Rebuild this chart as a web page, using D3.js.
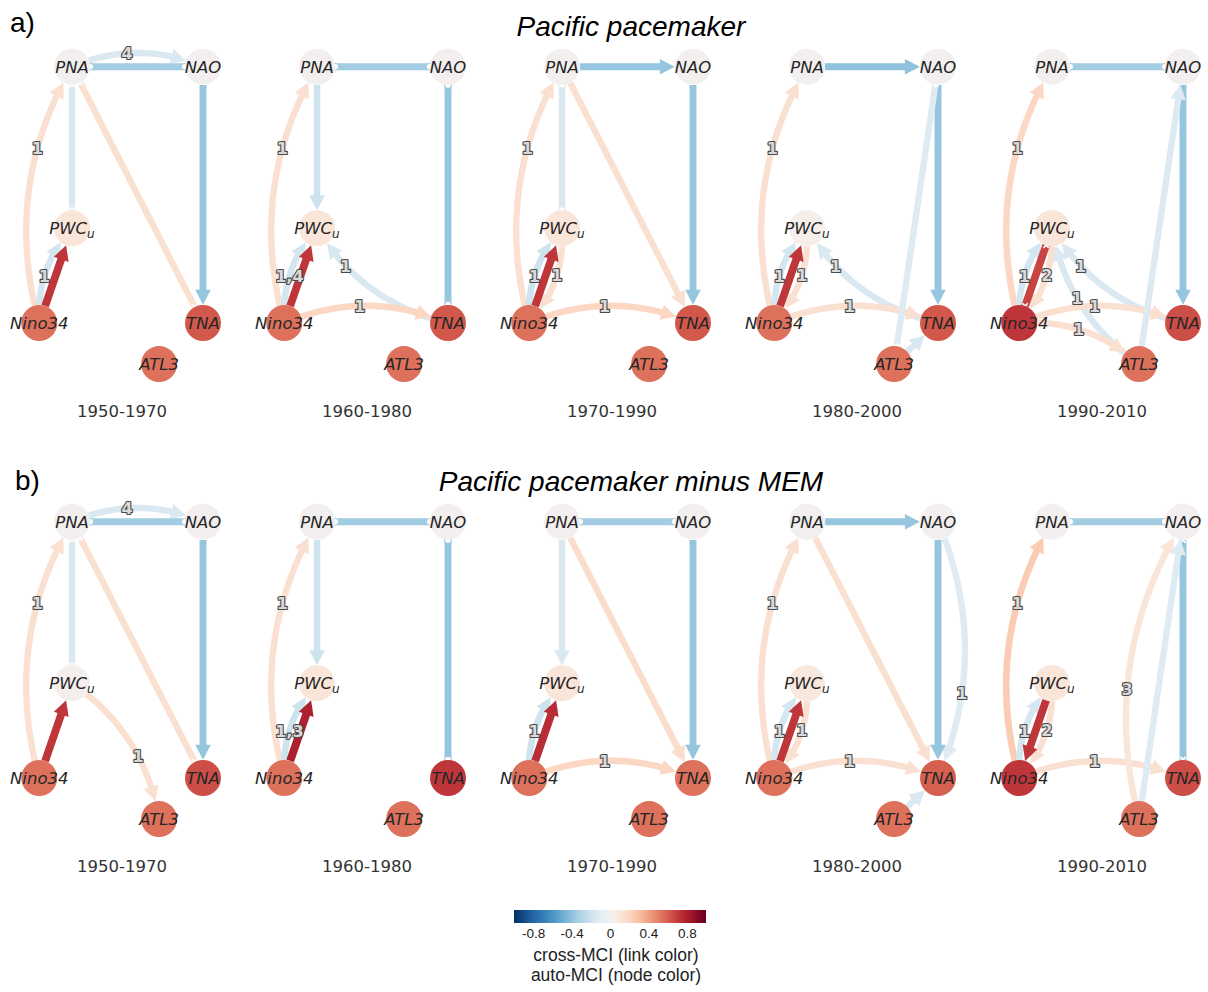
<!DOCTYPE html>
<html>
<head>
<meta charset="utf-8">
<script src="https://cdn.jsdelivr.net/npm/d3@7"></script>
<style>
  body { margin: 0; background: #fff; }
  svg { display: block; }
</style>
</head>
<body>
<script>
// ---------------------------------------------------------------
// Data
// ---------------------------------------------------------------
const periods = ["1950-1970", "1960-1980", "1970-1990", "1980-2000", "1990-2010"];
const experiments = ["Pacific pacemaker", "Pacific pacemaker minus MEM"];
const panelTags = ["a)", "b)"];
const variables = ["PNA", "NAO", "PWCu", "Nino34", "TNA", "ATL3"];
const colorbarTicks = [-0.8, -0.4, 0, 0.4, 0.8];

// auto-MCI (node colour): one row per period, columns follow `variables`
const autoMCIPacemaker = [
  [0, 0, 0.12, 0.55, 0.62, 0.55],
  [0, 0, 0.12, 0.55, 0.62, 0.55],
  [0, 0, 0.12, 0.55, 0.62, 0.55],
  [0, 0, 0.03, 0.55, 0.62, 0.55],
  [0, 0, 0.12, 0.72, 0.65, 0.55]
];
const autoMCIMinusMEM = [
  [0, 0, 0.02, 0.55, 0.65, 0.55],
  [0, 0, 0.12, 0.55, 0.72, 0.55],
  [0, 0, 0.12, 0.55, 0.55, 0.55],
  [0, 0, 0.10, 0.55, 0.60, 0.55],
  [0, 0, 0.12, 0.72, 0.65, 0.55]
];

// links: [source, target, kind, cross-MCI, lags]
// kind: "-->" contemporaneous directed, "o-o" / "x-x" contemporaneous undirected,
//       "lag" lagged directed link (curved, labelled with its lags)
const linksPacemaker = [
  [ // 1950-1970
    ["PNA", "NAO", "o-o", -0.35, ""],
    ["PNA", "NAO", "lag", -0.15, "4"],
    ["PNA", "PWCu", "x-x", -0.15, ""],
    ["PNA", "TNA", "x-x", 0.15, ""],
    ["NAO", "TNA", "-->", -0.38, ""],
    ["Nino34", "PNA", "lag", 0.15, "1"],
    ["Nino34", "PWCu", "-->", 0.72, ""],
    ["Nino34", "PWCu", "lag", -0.17, "1"]
  ],
  [ // 1960-1980
    ["PNA", "NAO", "o-o", -0.35, ""],
    ["NAO", "TNA", "o-o", -0.38, ""],
    ["PNA", "PWCu", "-->", -0.2, ""],
    ["Nino34", "PNA", "lag", 0.15, "1"],
    ["Nino34", "PWCu", "-->", 0.72, ""],
    ["Nino34", "PWCu", "lag", -0.17, "1,4"],
    ["TNA", "PWCu", "lag", -0.15, "1"],
    ["Nino34", "TNA", "lag", 0.2, "1"]
  ],
  [ // 1970-1990
    ["PNA", "NAO", "-->", -0.38, ""],
    ["NAO", "TNA", "-->", -0.38, ""],
    ["PNA", "PWCu", "o-o", -0.15, ""],
    ["PNA", "TNA", "-->", 0.15, ""],
    ["Nino34", "PNA", "lag", 0.15, "1"],
    ["Nino34", "PWCu", "-->", 0.72, ""],
    ["Nino34", "PWCu", "lag", -0.2, "1"],
    ["PWCu", "Nino34", "lag", 0.15, "1"],
    ["Nino34", "TNA", "lag", 0.2, "1"]
  ],
  [ // 1980-2000
    ["PNA", "NAO", "-->", -0.4, ""],
    ["NAO", "TNA", "-->", -0.38, ""],
    ["NAO", "ATL3", "o-o", -0.12, ""],
    ["ATL3", "TNA", "-->", -0.15, ""],
    ["Nino34", "PNA", "lag", 0.15, "1"],
    ["Nino34", "PWCu", "-->", 0.72, ""],
    ["Nino34", "PWCu", "lag", -0.17, "1"],
    ["PWCu", "Nino34", "lag", 0.15, "1"],
    ["TNA", "PWCu", "lag", -0.15, "1"],
    ["Nino34", "TNA", "lag", 0.15, "1"]
  ],
  [ // 1990-2010
    ["PNA", "NAO", "o-o", -0.35, ""],
    ["NAO", "TNA", "-->", -0.38, ""],
    ["ATL3", "NAO", "-->", -0.13, ""],
    ["Nino34", "PNA", "lag", 0.2, "1"],
    ["Nino34", "PWCu", "x-x", 0.68, ""],
    ["Nino34", "PWCu", "lag", -0.17, "1"],
    ["PWCu", "Nino34", "lag", 0.15, "2"],
    ["ATL3", "PWCu", "lag", -0.15, "1"],
    ["TNA", "PWCu", "lag", -0.15, "1"],
    ["Nino34", "TNA", "lag", 0.15, "1"],
    ["Nino34", "ATL3", "lag", 0.15, "1"]
  ]
];

const linksMinusMEM = [
  [ // 1950-1970
    ["PNA", "NAO", "o-o", -0.35, ""],
    ["PNA", "NAO", "lag", -0.15, "4"],
    ["PNA", "PWCu", "x-x", -0.15, ""],
    ["PNA", "TNA", "x-x", 0.15, ""],
    ["NAO", "TNA", "-->", -0.38, ""],
    ["Nino34", "PNA", "lag", 0.15, "1"],
    ["Nino34", "PWCu", "-->", 0.72, ""],
    ["PWCu", "ATL3", "lag", 0.15, "1"]
  ],
  [ // 1960-1980
    ["PNA", "NAO", "o-o", -0.35, ""],
    ["NAO", "TNA", "o-o", -0.38, ""],
    ["PNA", "PWCu", "-->", -0.2, ""],
    ["Nino34", "PNA", "lag", 0.15, "1"],
    ["Nino34", "PWCu", "-->", 0.8, ""],
    ["Nino34", "PWCu", "lag", -0.2, "1,3"]
  ],
  [ // 1970-1990
    ["PNA", "NAO", "o-o", -0.35, ""],
    ["NAO", "TNA", "-->", -0.38, ""],
    ["PNA", "PWCu", "-->", -0.15, ""],
    ["PNA", "TNA", "-->", 0.17, ""],
    ["Nino34", "PWCu", "-->", 0.75, ""],
    ["Nino34", "PWCu", "lag", -0.2, "1"],
    ["Nino34", "TNA", "lag", 0.2, "1"]
  ],
  [ // 1980-2000
    ["PNA", "NAO", "-->", -0.38, ""],
    ["NAO", "TNA", "-->", -0.38, ""],
    ["NAO", "TNA", "lag", -0.12, "1"],
    ["PNA", "TNA", "-->", 0.15, ""],
    ["Nino34", "PNA", "lag", 0.15, "1"],
    ["Nino34", "PWCu", "-->", 0.72, ""],
    ["Nino34", "PWCu", "lag", -0.17, "1"],
    ["PWCu", "Nino34", "lag", 0.15, "1"],
    ["Nino34", "TNA", "lag", 0.15, "1"],
    ["ATL3", "TNA", "-->", -0.15, ""]
  ],
  [ // 1990-2010
    ["PNA", "NAO", "o-o", -0.35, ""],
    ["NAO", "TNA", "x-x", -0.38, ""],
    ["Nino34", "PNA", "lag", 0.25, "1"],
    ["PWCu", "Nino34", "-->", 0.72, ""],
    ["Nino34", "PWCu", "lag", -0.17, "1"],
    ["PWCu", "Nino34", "lag", 0.15, "2"],
    ["Nino34", "TNA", "lag", 0.15, "1"],
    ["ATL3", "NAO", "lag", 0.12, "3"],
    ["ATL3", "NAO", "-->", -0.12, ""]
  ]
];

// ---------------------------------------------------------------
// Layout and style
// ---------------------------------------------------------------
const W = 1208, H = 992;
const svg = d3.select("body").append("svg").attr("width", W).attr("height", H);

// RdBu_r colour map over [-1, 1]
const mciColor = v => d3.interpolateRdBu(0.5 - v / 2);

const panelStep = 245, rowStep = 455;
const gx = d3.scaleLinear().domain([0, 1]).range([72, 203]);
const gy = d3.scaleLinear().domain([0, 1]).range([66.7, 323]);
const nodeLayout = {
  PNA: [0, 0], NAO: [1, 0], PWCu: [0, 0.63],
  Nino34: [-0.25, 1], TNA: [1, 1], ATL3: [0.665, 1.16]
};
const nodeR = 18;
const arcRad = 0.21;
const headLen = 15, headHalf = 7.8;
// where along a curved link its lag label sits
const lagLabelAt = {
  "Nino34>PNA": 0.67, "TNA>PWCu": 0.72, "NAO>TNA": 0.67, "PNA>NAO": 0.42,
  "PWCu>ATL3": 0.6, "ATL3>NAO": 0.42, "ATL3>PWCu": 0.55
};

const nodeFont = "'DejaVu Sans', sans-serif";
const sansFont = "'Liberation Sans', Arial, sans-serif";

function bez(p0, c, p2, u) {
  const a = (1 - u) * (1 - u), b = 2 * u * (1 - u), e = u * u;
  return [a * p0[0] + b * c[0] + e * p2[0], a * p0[1] + b * c[1] + e * p2[1]];
}
const dist = (a, b) => Math.hypot(a[0] - b[0], a[1] - b[1]);
const line = d3.line();

function drawPanel(g, links, auto) {
  const pos = {};
  variables.forEach(v => { pos[v] = [gx(nodeLayout[v][0]), gy(nodeLayout[v][1])]; });

  const linkG = g.append("g");
  const nodeG = g.append("g");
  const labG = g.append("g");

  // curved (lagged) links first, contemporaneous links on top
  const ordered = links.filter(l => l[2] === "lag").concat(links.filter(l => l[2] !== "lag"));

  ordered.forEach(([s, t, kind, val, lags]) => {
    const p0 = pos[s], p2 = pos[t];
    const dx = p2[0] - p0[0], dy = p2[1] - p0[1];
    const rad = kind === "lag" ? arcRad : 0;
    const c = [(p0[0] + p2[0]) / 2 + rad * dy, (p0[1] + p2[1]) / 2 - rad * dx];
    const pts = d3.range(0, 601).map(i => bez(p0, c, p2, i / 600));
    const vis = pts.filter(p => dist(p, p0) >= nodeR && dist(p, p2) >= nodeR);
    const col = mciColor(val);
    const w = 6 + 2.5 * Math.abs(val);
    const directed = kind === "lag" || kind === "-->";

    let body = vis;
    if (directed) {
      const tip = vis[vis.length - 1];
      // walk back along the path to find the head base and the line end
      let acc = 0, k = vis.length - 1, cut = -1;
      while (k > 0 && acc < headLen) {
        acc += dist(vis[k], vis[k - 1]);
        k--;
        if (cut < 0 && acc >= headLen * 0.5) cut = k;
      }
      const base = vis[k];
      const ux = (tip[0] - base[0]) / dist(tip, base), uy = (tip[1] - base[1]) / dist(tip, base);
      const bc = [tip[0] - ux * headLen, tip[1] - uy * headLen];
      body = vis.slice(0, cut + 1);
      linkG.append("path").attr("d", line(body))
        .attr("fill", "none").attr("stroke", col).attr("stroke-width", w);
      linkG.append("path")
        .attr("d", line([tip, [bc[0] - uy * headHalf, bc[1] + ux * headHalf],
                              [bc[0] + uy * headHalf, bc[1] - ux * headHalf]]) + "Z")
        .attr("fill", col);
    } else {
      linkG.append("path").attr("d", line(body))
        .attr("fill", "none").attr("stroke", col).attr("stroke-width", w);
      const ends = [vis[0], vis[vis.length - 1]];
      ends.forEach(e => {
        if (kind === "o-o") {
          linkG.append("circle").attr("cx", e[0]).attr("cy", e[1]).attr("r", 3.4)
            .attr("fill", "#fff").attr("stroke", col).attr("stroke-width", 1);
        } else {
          const m = 2.7;
          linkG.append("path")
            .attr("d", `M${e[0] - m},${e[1] - m}L${e[0] + m},${e[1] + m}M${e[0] - m},${e[1] + m}L${e[0] + m},${e[1] - m}`)
            .attr("stroke", "#fff").attr("stroke-width", 1.6).attr("fill", "none");
        }
      });
    }

    if (lags) {
      const lp = bez(p0, c, p2, lagLabelAt[s + ">" + t] ?? 0.46);
      labG.append("text").attr("x", lp[0]).attr("y", lp[1]).attr("dy", "0.36em")
        .attr("text-anchor", "middle")
        .attr("font-family", nodeFont).attr("font-size", 16).attr("font-weight", "bold")
        .attr("fill", "#d9d9d9").attr("stroke", "#4a4a4a").attr("stroke-width", 2.2)
        .attr("paint-order", "stroke").attr("stroke-linejoin", "round")
        .text(lags);
    }
  });

  // nodes coloured by auto-MCI
  variables.forEach((v, i) => {
    nodeG.append("circle").attr("cx", pos[v][0]).attr("cy", pos[v][1]).attr("r", nodeR)
      .attr("fill", mciColor(auto[i]));
    const txt = nodeG.append("text").attr("x", pos[v][0]).attr("y", pos[v][1]).attr("dy", "0.36em")
      .attr("text-anchor", "middle").attr("font-family", nodeFont).attr("font-style", "italic")
      .attr("font-size", 16.5).attr("fill", "#262626");
    if (v === "PWCu") {
      txt.append("tspan").text("PWC");
      txt.append("tspan").attr("font-size", 12).attr("dy", 4).text("u");
    } else {
      txt.text(v);
    }
  });
}

// ---------------------------------------------------------------
// Rows of network panels
// ---------------------------------------------------------------
const rows = [
  { links: linksPacemaker, auto: autoMCIPacemaker },
  { links: linksMinusMEM, auto: autoMCIMinusMEM }
];

rows.forEach((row, r) => {
  const rowG = svg.append("g").attr("transform", `translate(0,${r * rowStep})`);
  rowG.append("text").attr("x", r === 0 ? 10 : 15).attr("y", r === 0 ? 32 : 35)
    .attr("font-family", sansFont).attr("font-size", 28).attr("fill", "#000")
    .text(panelTags[r]);
  rowG.append("text").attr("x", 631).attr("y", 36).attr("text-anchor", "middle")
    .attr("font-family", sansFont).attr("font-style", "italic").attr("font-size", 28).attr("fill", "#000")
    .text(experiments[r]);

  periods.forEach((p, i) => {
    const g = rowG.append("g").attr("transform", `translate(${i * panelStep},0)`);
    drawPanel(g, row.links[i], row.auto[i]);
    g.append("text").attr("x", 122).attr("y", 416.5).attr("text-anchor", "middle")
      .attr("font-family", nodeFont).attr("font-size", 16.5).attr("fill", "#333")
      .text(p);
  });
});

// ---------------------------------------------------------------
// Colour bar
// ---------------------------------------------------------------
const cbX = d3.scaleLinear().domain([-1, 1]).range([514, 706]);
const grad = svg.append("defs").append("linearGradient").attr("id", "mciGrad")
  .attr("x1", "0%").attr("x2", "100%").attr("y1", "0%").attr("y2", "0%");
d3.range(0, 1.0001, 0.025).forEach(o => {
  grad.append("stop").attr("offset", `${o * 100}%`).attr("stop-color", mciColor(-1 + 2 * o));
});
svg.append("rect").attr("x", cbX(-1)).attr("y", 910).attr("width", cbX(1) - cbX(-1)).attr("height", 13)
  .attr("fill", "url(#mciGrad)");

const cbAxis = svg.append("g").attr("transform", "translate(0,923)")
  .call(d3.axisBottom(cbX).tickValues(colorbarTicks).tickSize(0).tickPadding(5)
    .tickFormat(d => d === 0 ? "0" : String(d)));
cbAxis.select(".domain").remove();
cbAxis.selectAll("text").attr("font-family", sansFont).attr("font-size", 13.5).attr("fill", "#222");

svg.append("text").attr("x", 616).attr("y", 961).attr("text-anchor", "middle")
  .attr("font-family", sansFont).attr("font-size", 17.5).attr("fill", "#222")
  .text("cross-MCI (link color)");
svg.append("text").attr("x", 616).attr("y", 981).attr("text-anchor", "middle")
  .attr("font-family", sansFont).attr("font-size", 17.5).attr("fill", "#222")
  .text("auto-MCI (node color)");
</script>
</body>
</html>
